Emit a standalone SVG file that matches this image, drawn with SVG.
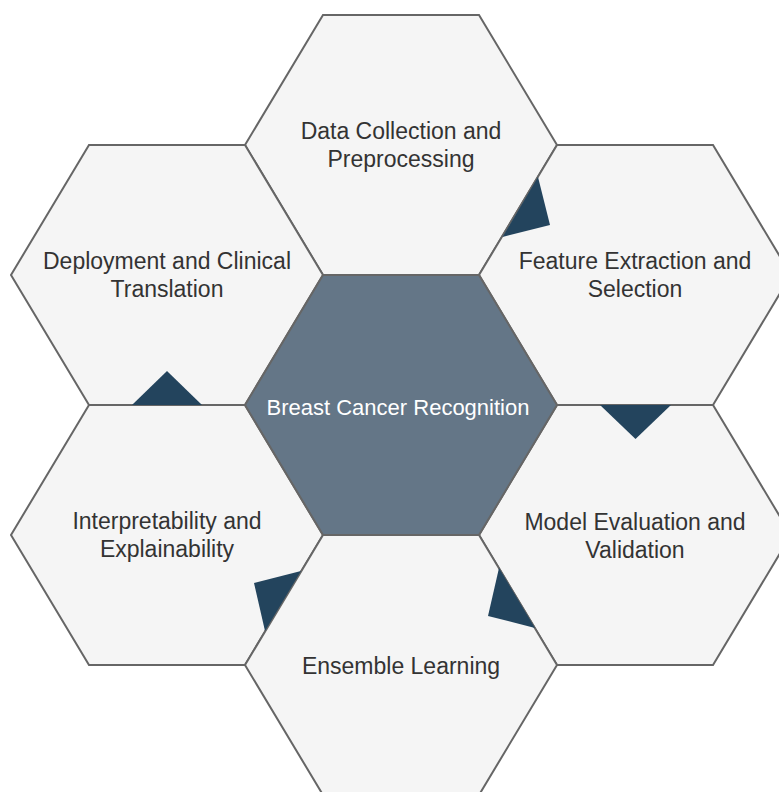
<svg xmlns="http://www.w3.org/2000/svg" width="779" height="792" viewBox="0 0 779 792">
  <defs>
    <style>
      .hex { fill: #f5f5f5; stroke: #666666; stroke-width: 2; stroke-linejoin: miter; }
      .hub { fill: #647687; stroke: #666666; stroke-width: 2; }
      .lbl { font-family: "Liberation Sans", Arial, Helvetica, sans-serif; font-size: 23px; fill: #333333; text-anchor: middle; }
      .hub-lbl { fill: #ffffff; font-size: 22px; }
      .flow { fill: #23445d; stroke: none; }
    </style>
    <!-- flat-top hexagon centred on the origin -->
    <polygon id="hexShape" points="-78,-130 78,-130 156,0 78,130 -78,130 -156,0"/>
  </defs>

  <rect width="779" height="792" fill="#ffffff"/>

  <g id="data-collection">
    <use href="#hexShape" class="hex" transform="translate(401,145)"/>
    <text class="lbl" x="401" y="139">Data Collection and</text>
    <text class="lbl" x="401" y="167">Preprocessing</text>
  </g>

  <g id="deployment">
    <use href="#hexShape" class="hex" transform="translate(167,275)"/>
    <text class="lbl" x="167" y="269">Deployment and Clinical</text>
    <text class="lbl" x="167" y="297">Translation</text>
  </g>

  <g id="feature-extraction">
    <use href="#hexShape" class="hex" transform="translate(635,275)"/>
    <text class="lbl" x="635" y="269">Feature Extraction and</text>
    <text class="lbl" x="635" y="297">Selection</text>
  </g>

  <g id="interpretability">
    <use href="#hexShape" class="hex" transform="translate(167,535)"/>
    <text class="lbl" x="167" y="529">Interpretability and</text>
    <text class="lbl" x="167" y="557">Explainability</text>
  </g>

  <g id="model-evaluation">
    <use href="#hexShape" class="hex" transform="translate(635,535)"/>
    <text class="lbl" x="635" y="530">Model Evaluation and</text>
    <text class="lbl" x="635" y="558">Validation</text>
  </g>

  <g id="ensemble-learning">
    <use href="#hexShape" class="hex" transform="translate(401,665)"/>
    <text class="lbl" x="401" y="674">Ensemble Learning</text>
  </g>

  <g id="breast-cancer-recognition">
    <use href="#hexShape" class="hub" transform="translate(401,405)"/>
    <text class="lbl hub-lbl" x="398" y="415">Breast Cancer Recognition</text>
  </g>

  <!-- direction markers sitting on the shared edges, clockwise -->
  <g id="connectors">
    <polygon class="flow" points="538,177 502.5,237 550,225"/>
    <polygon class="flow" points="600,405 671,405 635.5,439"/>
    <polygon class="flow" points="499,568 535,628 488,616"/>
    <polygon class="flow" points="301,571 265,631 254,583"/>
    <polygon class="flow" points="132,405 202,405 167,371"/>
  </g>
</svg>
